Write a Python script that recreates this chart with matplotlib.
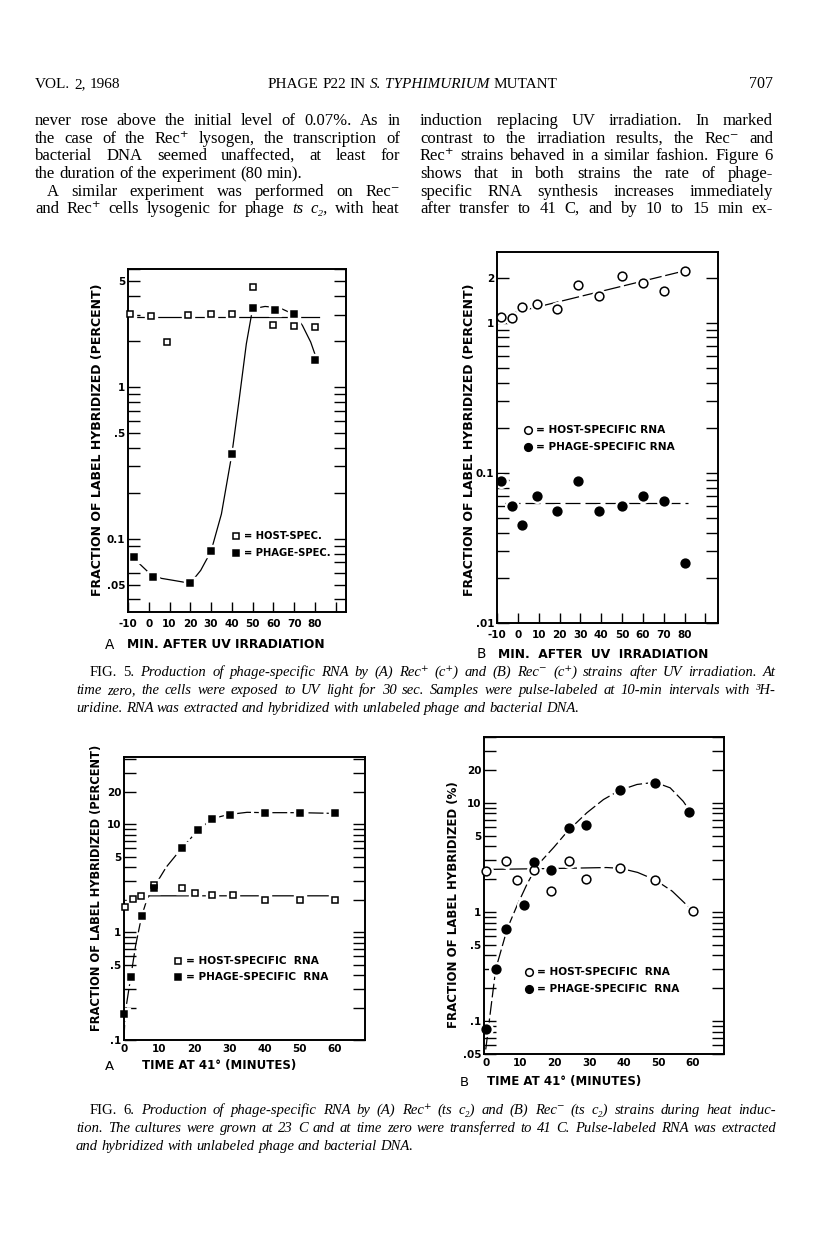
import numpy as np
import matplotlib
matplotlib.use('Agg')
import matplotlib.pyplot as plt
from matplotlib.lines import Line2D
from matplotlib.ticker import FixedLocator, FixedFormatter, LogLocator, NullFormatter

# ---- data -------------------------------------------------------------------
# Fig 5A  (Rec+ c+, UV)
a5_host_x = [-9, 1, 9, 19, 30, 40, 50, 60, 70, 80]
a5_host_y = [3.05, 2.95, 1.97, 3.0, 3.02, 3.02, 4.55, 2.55, 2.53, 2.48]
a5_phage_x = [-7, 2, 20, 30, 40, 50, 61, 70, 80]
a5_phage_y = [0.076, 0.056, 0.051, 0.083, 0.36, 3.3, 3.22, 3.05, 1.5]
a5_hostline_x = [-10, 82]
a5_hostline_y = [2.9, 2.9]
a5_curve_x = [-7, 0, 6, 13, 20, 25, 30, 35, 40, 43.5, 47, 50, 56, 63, 70, 74, 78, 80.5]
a5_curve_y = [0.074, 0.060, 0.055, 0.053, 0.051, 0.062, 0.083, 0.146, 0.36, 0.82,
              1.93, 3.28, 3.4, 3.33, 3.01, 2.55, 1.98, 1.58]

# Fig 5B  (Rec- c+, UV)
b5_x = [-8, -3, 2, 9, 19, 29, 39, 50, 60, 70, 80]
b5_host_y = [1.10, 1.08, 1.28, 1.33, 1.23, 1.78, 1.51, 2.07, 1.85, 1.63, 2.21]
b5_phage_y = [0.088, 0.060, 0.045, 0.070, 0.0555, 0.088, 0.0555, 0.060, 0.070, 0.065, 0.025]
b5_hostline_x = [-8.5, 78]
b5_hostline_y = [1.11, 2.19]
b5_phageline_x = [-6, 81.5]
b5_phageline_y = [0.0634, 0.0634]

# Fig 6A  (Rec+ ts c2, 41 C)
a6_host_x = [0.4, 2.6, 4.8, 8.5, 16.6, 20.2, 25, 31, 40, 50, 60]
a6_host_y = [1.72, 2.02, 2.17, 2.75, 2.56, 2.31, 2.2, 2.23, 1.98, 1.98, 1.98]
a6_phage_x = [0, 2, 5, 8.5, 16.5, 21, 25, 30, 40, 50, 60]
a6_phage_y = [0.175, 0.384, 1.40, 2.56, 5.97, 8.88, 11.3, 12.3, 12.8, 12.8, 12.6]
a6_hostcurve_x = [0, 2.6, 5.5, 60.5]
a6_hostcurve_y = [1.6, 2.0, 2.17, 2.17]
a6_phagecurve_x = [0, 0.3, 1.9, 3.3, 5, 6.5, 8.5, 12, 16.4, 21.2, 25.2, 29.7, 35, 40, 50, 60]
a6_phagecurve_y = [0.1, 0.175, 0.38, 0.75, 1.4, 2.0, 2.6, 4.0, 6.0, 8.9, 11.3, 12.3,
                   12.9, 12.8, 12.8, 12.6]

# Fig 6B  (Rec- ts c2, 41 C)
b6_host_x = [0, 6, 9, 14, 19, 24, 29, 39, 49, 60]
b6_host_y = [2.39, 2.95, 1.97, 2.44, 1.57, 2.91, 2.01, 2.51, 1.97, 1.02]
b6_phage_x = [0, 3, 6, 11, 14, 19, 24, 29, 39, 49, 59]
b6_phage_y = [0.084, 0.30, 0.70, 1.15, 2.89, 2.44, 5.93, 6.22, 13.2, 15.2, 8.2]
b6_hostcurve_x = [0, 20, 35, 39, 44, 49, 54, 60]
b6_hostcurve_y = [2.45, 2.5, 2.55, 2.51, 2.3, 1.97, 1.55, 1.02]
b6_phagecurve_x = [0, 2.9, 6.25, 9.1, 12, 14.9, 19.7, 23.8, 29.3, 34.1, 38.8, 43.8, 49,
                   53.4, 57.2, 59.1]
b6_phagecurve_y = [0.055, 0.30, 0.705, 1.15, 1.81, 2.66, 3.9, 5.53, 8.1, 10.7, 13.0,
                   14.7, 15.4, 13.7, 10.3, 8.4]

# ---- page text ---------------------------------------------------------------
left_col = ["never rose above the initial level of 0.07%. As in",
            "the case of the Rec\u207a lysogen, the transcription of",
            "bacterial DNA seemed unaffected, at least for",
            "the duration of the experiment (80 min).",
            "A similar experiment was performed on Rec\u207b",
            "and Rec\u207a cells lysogenic for phage *ts* *c\u2082,* with heat"]
right_col = ["induction replacing UV irradiation. In marked",
             "contrast to the irradiation results, the Rec\u207b and",
             "Rec\u207a strains behaved in a similar fashion. Figure 6",
             "shows that in both strains the rate of phage-",
             "specific RNA synthesis increases immediately",
             "after transfer to 41 C, and by 10 to 15 min ex-"]
cap5 = ["*FIG.* *5.* Production of phage-specific RNA by (A) Rec\u207a (c\u207a) and (B) Rec\u207b (c\u207a) strains after UV irradiation. At",
        "time zero, the cells were exposed to UV light for 30 sec. Samples were pulse-labeled at 10-min intervals with \u00b3H-",
        "uridine. RNA was extracted and hybridized with unlabeled phage and bacterial DNA."]
cap6 = ["*FIG.* *6.* Production of phage-specific RNA by (A) Rec\u207a (ts c\u2082) and (B) Rec\u207b (ts c\u2082) strains during heat induc-",
        "tion. The cultures were grown at 23 C and at time zero were transferred to 41 C. Pulse-labeled RNA was extracted",
        "and hybridized with unlabeled phage and bacterial DNA."]

# ---- helpers -----------------------------------------------------------------
W, H = 816, 1240
fig = plt.figure(figsize=(W / 100, H / 100), dpi=100)
fig.patch.set_facecolor('white')
renderer = fig.canvas.get_renderer()
SERIF = ['Liberation Serif', 'DejaVu Serif']
LET = ['DejaVu Sans']


def fx(x):
    return x / W


def fy(y):
    return 1 - y / H


def add_ax(l, t, r, b):
    return fig.add_axes([fx(l), fy(b), (r - l) / W, (b - t) / H])


def text_w(s, size, style):
    t = fig.text(0, 0, s, fontsize=size, style=style, family=SERIF)
    w = t.get_window_extent(renderer).width
    t.remove()
    return w


def set_line(line, x0, x1, y, size=10.5, base='normal', justify=True, align='left'):
    words = []
    for w in line.split():
        st = base
        if w.startswith('*') and w.endswith('*'):
            st = 'italic' if base == 'normal' else 'normal'
            w = w.strip('*')
        words.append((w, st))
    widths = [text_w(w, size, st) for w, st in words]
    space = text_w('a a', size, base) - text_w('aa', size, base)
    total = sum(widths)
    gap = space
    if justify and len(words) > 1:
        gap = (x1 - x0 - total) / (len(words) - 1)
        if gap < 0.6 * space:
            return set_line(line, x0, x1, y, size * 0.97, base, justify, align)
    x = x0
    if align == 'center':
        x = (x0 + x1) / 2 - (total + gap * (len(words) - 1)) / 2
    elif align == 'right':
        x = x1 - (total + gap * (len(words) - 1))
    for (w, st), wd in zip(words, widths):
        fig.text(fx(x), fy(y), w, fontsize=size, style=st, family=SERIF, va='baseline')
        x += wd + gap


def series(ax, x, y, marker, filled, ms):
    ax.plot(x, y, ls='none', marker=marker, ms=ms + 3.5, mfc='white', mec='white',
            zorder=2.2, clip_on=False)
    ax.plot(x, y, ls='none', marker=marker, ms=ms, mfc='black' if filled else 'white',
            mec='black', mew=1.1, zorder=3, clip_on=False)


def curve(ax, x, y, ls='-'):
    ax.plot(x, y, color='black', lw=0.9, ls=ls, zorder=2)


def style_ax(ax, xlim, ylim, yvals, ylabels, xticks, xlabels, xtick_len, xpad):
    ax.set_yscale('log')
    ax.set_xlim(*xlim)
    ax.set_ylim(*ylim)
    ax.yaxis.set_major_locator(FixedLocator(yvals))
    ax.yaxis.set_major_formatter(FixedFormatter(ylabels))
    ax.yaxis.set_minor_locator(LogLocator(base=10, subs=np.arange(1, 10)))
    ax.yaxis.set_minor_formatter(NullFormatter())
    ax.set_xticks(xticks)
    ax.set_xticklabels(xlabels)
    ax.tick_params(axis='y', which='both', direction='in', left=True, right=True,
                   length=8.5, width=1.0, labelsize=7.5, pad=2)
    ax.tick_params(axis='x', direction='in', top=False, length=xtick_len, width=1.0,
                   labelsize=7.5, pad=xpad)
    for lab in ax.get_xticklabels() + ax.get_yticklabels():
        lab.set_fontweight('bold')
        lab.set_family(LET)
    for sp in ax.spines.values():
        sp.set_linewidth(1.4)
    ax.set_facecolor('none')


def legend_entry(px, py, marker, filled, ms, label, size=7.6):
    fig.add_artist(Line2D([fx(px)], [fy(py)], transform=fig.transFigure, ls='none',
                          marker=marker, ms=ms, mew=1.1, mec='black',
                          mfc='black' if filled else 'white'))
    fig.text(fx(px + 8), fy(py), label, fontsize=size, weight='bold', family=LET,
             va='center', ha='left')


def ylab(px, py, s, size=9):
    fig.text(fx(px), fy(py), s, rotation=90, fontsize=size, weight='bold', family=LET,
             va='center', ha='center')


def xlab(px_letter, px, py, letter, s, size=8.8):
    fig.text(fx(px_letter), fy(py), letter, fontsize=size + 1, family=LET, va='center')
    fig.text(fx(px), fy(py), s, fontsize=size, weight='bold', family=LET, va='center')


# ---- header and body text ----------------------------------------------------
set_line("VOL. 2, 1968", 35, 200, 88, size=11, justify=False)
set_line("PHAGE P22 IN *S.* *TYPHIMURIUM* MUTANT", 245, 580, 88, size=11,
         justify=False, align='center')
set_line("707", 700, 773, 88, size=11.5, justify=False, align='right')

body_y = [125, 143, 160, 178, 196, 213]
for i, line in enumerate(left_col):
    x0 = 47 if i == 4 else 35
    set_line(line, x0, 400, body_y[i], size=12, justify=(i != 3))
for i, line in enumerate(right_col):
    set_line(line, 420, 773, body_y[i], size=12, justify=True)

for i, line in enumerate(cap5):
    set_line(line, 90 if i == 0 else 76, 776, [676, 694, 712][i], size=10.5,
             base='italic', justify=(i != 2))
for i, line in enumerate(cap6):
    set_line(line, 90 if i == 0 else 76, 776, [1114, 1132, 1150][i], size=10.5,
             base='italic', justify=(i != 2))

# ---- Fig 5A ------------------------------------------------------------------
ax = add_ax(128, 269, 346, 612)
curve(ax, a5_hostline_x, a5_hostline_y)
curve(ax, a5_curve_x, a5_curve_y)
series(ax, a5_host_x, a5_host_y, 's', False, 5)
series(ax, a5_phage_x, a5_phage_y, 's', True, 5)
style_ax(ax, (-10, 95), (0.033, 6.0), [5, 1, 0.5, 0.1, 0.05], ['5', '1', '.5', '0.1', '.05'],
         list(range(-10, 100, 10)), ['-10', '0', '10', '20', '30', '40', '50', '60', '70', '80', ''],
         7, 5)
legend_entry(236, 536, 's', False, 5, '= HOST-SPEC.', size=7.2)
legend_entry(236, 553, 's', True, 5, '= PHAGE-SPEC.', size=7.2)
ylab(98, 440, 'FRACTION OF LABEL HYBRIDIZED (PERCENT)')
xlab(105, 127, 645, 'A', 'MIN. AFTER UV IRRADIATION')

# ---- Fig 5B ------------------------------------------------------------------
ax = add_ax(497, 252, 718, 623)
curve(ax, b5_hostline_x, b5_hostline_y, ls=(0, (14, 3)))
curve(ax, b5_phageline_x, b5_phageline_y, ls=(0, (12, 4)))
series(ax, b5_x, b5_host_y, 'o', False, 6.3)
series(ax, b5_x, b5_phage_y, 'o', True, 6.3)
style_ax(ax, (-10, 96), (0.01, 2.97), [2, 1, 0.1, 0.01], ['2', '1', '0.1', '.01'],
         list(range(-10, 100, 10)), ['-10', '0', '10', '20', '30', '40', '50', '60', '70', '80', ''],
         7, 5)
legend_entry(528, 430, 'o', False, 5.5, '= HOST-SPECIFIC RNA')
legend_entry(528, 447, 'o', True, 5.5, '= PHAGE-SPECIFIC RNA')
ylab(470, 440, 'FRACTION OF LABEL HYBRIDIZED (PERCENT)')
xlab(477, 498, 654, 'B', 'MIN.  AFTER  UV  IRRADIATION')

# ---- Fig 6A ------------------------------------------------------------------
ax = add_ax(124, 757, 365, 1040)
curve(ax, a6_hostcurve_x, a6_hostcurve_y)
curve(ax, a6_phagecurve_x, a6_phagecurve_y, ls=(0, (12, 2.5)))
series(ax, a6_host_x, a6_host_y, 's', False, 5)
series(ax, a6_phage_x, a6_phage_y, 's', True, 5)
style_ax(ax, (0, 68.5), (0.1, 42), [20, 10, 5, 1, 0.5, 0.1], ['20', '10', '5', '1', '.5', '.1'],
         list(range(0, 70, 10)), ['0', '10', '20', '30', '40', '50', '60'], 0, 3)
legend_entry(178, 961, 's', False, 5, '= HOST-SPECIFIC  RNA')
legend_entry(178, 977, 's', True, 5, '= PHAGE-SPECIFIC  RNA')
ylab(97, 888, 'FRACTION OF LABEL HYBRIDIZED (PERCENT)', size=8.3)
xlab(105, 142, 1066, 'A', 'TIME AT 41\u00b0 (MINUTES)', size=8.5)

# ---- Fig 6B ------------------------------------------------------------------
ax = add_ax(484, 737, 724, 1054)
curve(ax, b6_hostcurve_x, b6_hostcurve_y, ls=(0, (16, 3)))
curve(ax, b6_phagecurve_x, b6_phagecurve_y, ls=(0, (11, 3)))
series(ax, b6_host_x, b6_host_y, 'o', False, 6.3)
series(ax, b6_phage_x, b6_phage_y, 'o', True, 6.3)
style_ax(ax, (-0.5, 69), (0.05, 40), [20, 10, 5, 1, 0.5, 0.1, 0.05],
         ['20', '10', '5', '1', '.5', '.1', '.05'],
         list(range(0, 70, 10)), ['0', '10', '20', '30', '40', '50', '60'], 0, 3)
legend_entry(529, 972, 'o', False, 5.5, '= HOST-SPECIFIC  RNA')
legend_entry(529, 989, 'o', True, 5.5, '= PHAGE-SPECIFIC  RNA')
ylab(453, 905, 'FRACTION OF LABEL HYBRIDIZED (%)', size=8.5)
xlab(460, 487, 1082, 'B', 'TIME AT 41\u00b0 (MINUTES)', size=8.5)

fig.savefig('out.png', dpi=100, facecolor='white')
